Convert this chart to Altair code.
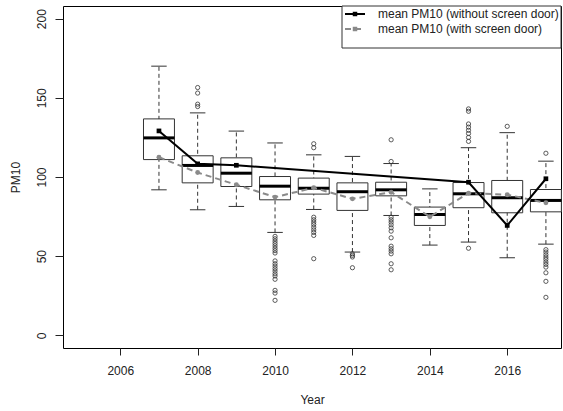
import altair as alt
import pandas as pd

# Yearly PM10 distribution summaries
years = [2007, 2008, 2009, 2010, 2011, 2012, 2013, 2014, 2015, 2016, 2017]
whisker_hi = [170.0, 140.5, 129.0, 121.5, 114.0, 113.0, 108.5, 92.5, 118.5, 128.0, 110.0]
q3 = [136.7, 113.4, 112.1, 100.3, 99.3, 96.3, 96.7, 81.0, 96.5, 97.8, 92.1]
medians = [124.7, 107.3, 102.4, 94.2, 92.9, 90.7, 91.9, 76.3, 89.4, 86.9, 85.2]
q1 = [111.0, 96.3, 94.0, 85.6, 89.2, 78.9, 88.1, 69.4, 80.6, 77.4, 78.0]
whisker_lo = [91.9, 79.3, 81.4, 65.0, 79.5, 52.6, 75.7, 57.0, 58.9, 49.0, 57.6]

# Outlying observations per year
outliers = {
    2008: [156.5, 153.0, 146.0, 144.5],
    2010: [62.5, 61.0, 59.5, 58.0, 56.5, 55.0, 53.5, 52.0, 47.0, 45.2, 43.7, 42.1,
           40.6, 38.9, 37.5, 35.4, 28.4, 26.7, 22.1],
    2011: [121.0, 118.5, 74.6, 73.0, 71.5, 70.0, 68.3, 66.6, 65.0, 63.1, 48.4],
    2012: [51.5, 50.5, 49.5, 42.7],
    2013: [123.5, 109.8, 74.6, 73.0, 71.5, 69.8, 67.9, 65.8, 61.6, 56.3, 54.7,
           53.2, 51.5, 45.2, 41.4],
    2015: [143.0, 141.5, 133.5, 131.5, 129.5, 127.5, 125.0, 122.5, 55.0],
    2016: [132.0],
    2017: [115.0, 54.1, 52.6, 50.9, 49.4, 48.0, 46.3, 44.8, 43.1, 39.5, 34.1, 24.0],
}

# Yearly means
mean_with_door = [112.5, 102.8, 95.1, 87.3, 93.2, 86.2, 90.4, 74.9, 89.8, 88.8, 83.7]
years_without_door = [2007, 2008, 2009, 2015, 2016, 2017]
mean_without_door = [129.1, 108.3, 107.4, 96.7, 69.4, 98.9]

label_without = "mean PM10 (without screen door)"
label_with = "mean PM10 (with screen door)"

stats = pd.DataFrame({
    "year": years, "hi": whisker_hi, "q3": q3, "median": medians,
    "q1": q1, "lo": whisker_lo,
})
out_df = pd.DataFrame(
    [(y, v) for y, vals in outliers.items() for v in vals], columns=["year", "pm10"]
)
with_df = pd.DataFrame({"year": years, "pm10": mean_with_door})
without_df = pd.DataFrame({"year": years_without_door, "pm10": mean_without_door})

FONT = "Liberation Sans"
INK = "#222222"
BOXLINE = "#333333"

xscale = alt.Scale(domain=[2004.52, 2017.39], nice=False, zero=False)
yscale = alt.Scale(domain=[-8, 208], nice=False, zero=False)
xaxis = alt.Axis(values=[2006, 2008, 2010, 2012, 2014, 2016], format="d",
                 grid=False, domain=False, tickSize=7, tickColor=INK,
                 labelPadding=10, labelFontSize=12, labelColor=INK,
                 titleFontSize=12, titleFontWeight="normal", titleColor=INK,
                 titlePadding=18, labelFont=FONT, titleFont=FONT)
yaxis = alt.Axis(values=[0, 50, 100, 150, 200], grid=False, domain=False,
                 tickSize=8, tickColor=INK, labelAngle=270, labelAlign="center",
                 labelBaseline="bottom", labelPadding=7, labelFontSize=12,
                 labelColor=INK, titleFontSize=12, titleFontWeight="normal",
                 titleColor=INK, titlePadding=13, titleAngle=270,
                 labelFont=FONT, titleFont=FONT)


def X(field):
    return alt.X(field, type="quantitative", scale=xscale, axis=xaxis, title="Year")


def Y(field):
    return alt.Y(field, type="quantitative", scale=yscale, axis=yaxis, title="PM10")


box_base = alt.Chart(stats).transform_calculate(
    bl="datum.year - 0.4", br="datum.year + 0.4",
    cl="datum.year - 0.2", cr="datum.year + 0.2",
)

whiskers = box_base.mark_rule(color=BOXLINE, strokeWidth=1, strokeDash=[4, 3]).encode(
    x=X("year"), y=Y("lo"), y2="hi:Q"
)
cap_hi = box_base.mark_rule(color=BOXLINE, strokeWidth=1).encode(
    x=X("cl"), x2="cr:Q", y=Y("hi")
)
cap_lo = box_base.mark_rule(color=BOXLINE, strokeWidth=1).encode(
    x=X("cl"), x2="cr:Q", y=Y("lo")
)
boxes = box_base.mark_rect(fill="white", stroke=BOXLINE, strokeWidth=1).encode(
    x=X("bl"), x2="br:Q", y=Y("q1"), y2="q3:Q"
)
median_bar = box_base.mark_rule(color="black", strokeWidth=3).encode(
    x=X("bl"), x2="br:Q", y=Y("median")
)
out_pts = alt.Chart(out_df).mark_point(
    shape="circle", filled=False, size=18, color=BOXLINE, strokeWidth=0.8, opacity=1
).encode(x=X("year"), y=Y("pm10"))

gray = "#8a8a8a"
with_line = alt.Chart(with_df).mark_line(color=gray, strokeWidth=2, strokeDash=[6, 4]).encode(
    x=X("year"), y=Y("pm10")
)
with_pts = alt.Chart(with_df).mark_circle(color=gray, size=24, opacity=1).encode(
    x=X("year"), y=Y("pm10")
)
without_line = alt.Chart(without_df).mark_line(color="black", strokeWidth=2).encode(
    x=X("year"), y=Y("pm10")
)
without_pts = alt.Chart(without_df).mark_square(color="black", size=22, opacity=1).encode(
    x=X("year"), y=Y("pm10")
)

# Legend box in the top-right corner of the plot
one = pd.DataFrame({"k": [0]})
leg_frame = alt.Chart(one).mark_rect(fill="white", stroke=BOXLINE, strokeWidth=1).encode(
    x=alt.value(279), x2=alt.value(498), y=alt.value(0), y2=alt.value(42)
)
leg_line1 = alt.Chart(one).mark_rule(color="black", strokeWidth=2).encode(
    x=alt.value(282), x2=alt.value(302), y=alt.value(8)
)
leg_pt1 = alt.Chart(one).mark_square(color="black", size=20, opacity=1).encode(
    x=alt.value(292), y=alt.value(8)
)
leg_line2 = alt.Chart(one).mark_rule(color=gray, strokeWidth=2, strokeDash=[6, 4]).encode(
    x=alt.value(282), x2=alt.value(302), y=alt.value(23)
)
leg_pt2 = alt.Chart(one).mark_square(color=gray, size=20, opacity=1).encode(
    x=alt.value(292), y=alt.value(23)
)
leg_txt1 = alt.Chart(one).mark_text(
    align="left", baseline="middle", font=FONT, fontSize=12, color=INK
).encode(x=alt.value(315), y=alt.value(8), text=alt.value(label_without))
leg_txt2 = alt.Chart(one).mark_text(
    align="left", baseline="middle", font=FONT, fontSize=12, color=INK
).encode(x=alt.value(315), y=alt.value(23), text=alt.value(label_with))

chart = alt.layer(
    whiskers, cap_hi, cap_lo, boxes, median_bar, out_pts,
    with_line, with_pts, without_line, without_pts,
    leg_frame, leg_line1, leg_pt1, leg_line2, leg_pt2, leg_txt1, leg_txt2,
).properties(
    width=498, height=342,
    autosize=alt.AutoSizeParams(type="none"),
    padding={"left": 63, "top": 6, "right": 2, "bottom": 63},
    background="white",
).configure_view(stroke="black", strokeWidth=1)

chart.save("out.html", embed_options={"renderer": "svg", "actions": False})
